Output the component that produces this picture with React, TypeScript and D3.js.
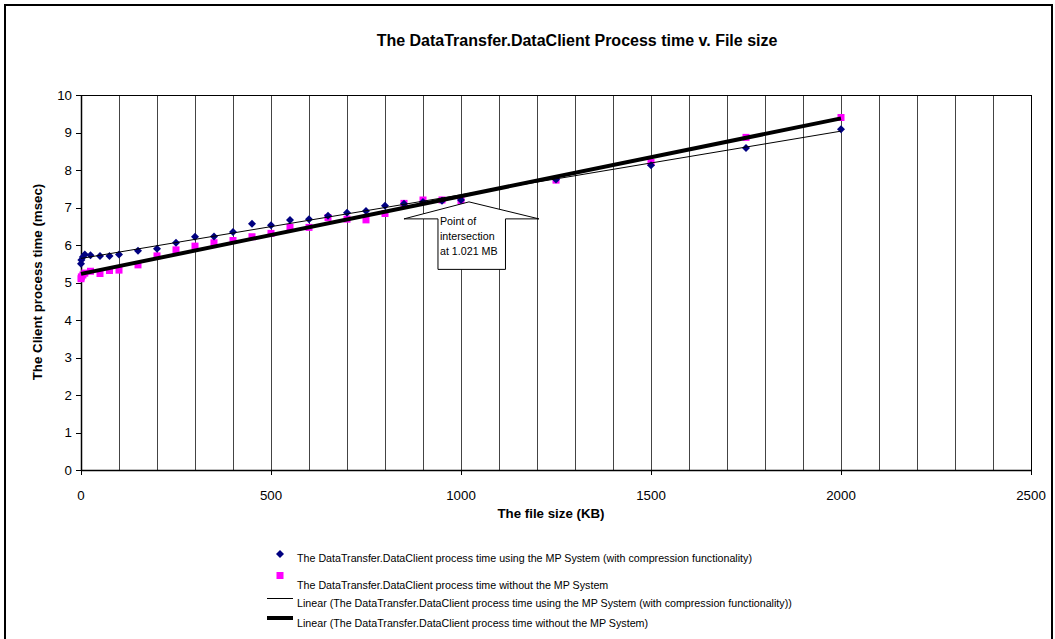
import React from 'react';
import * as d3 from 'd3';

const W = 1055;
const H = 639;

const titleText = 'The DataTransfer.DataClient Process time v. File size';
const xTitle = 'The file size (KB)';
const yTitle = 'The Client process time (msec)';
const xTicks = [0, 500, 1000, 1500, 2000, 2500];
const yTicks = [0, 1, 2, 3, 4, 5, 6, 7, 8, 9, 10];
const gridX = [100, 200, 300, 400, 500, 600, 700, 800, 900, 1000, 1100, 1200, 1300, 1400, 1500, 1600, 1700, 1800, 1900, 2000, 2100, 2200, 2300, 2400];

const blueX = [0, 1, 5, 10, 25, 50, 75, 100, 150, 200, 250, 300, 350, 400, 450, 500, 550, 600, 650, 700, 750, 800, 850, 900, 950, 1000, 1250, 1500, 1750, 2000];
const blueY = [5.5, 5.6, 5.68, 5.75, 5.73, 5.71, 5.71, 5.75, 5.85, 5.9, 6.06, 6.22, 6.23, 6.35, 6.57, 6.53, 6.67, 6.69, 6.78, 6.86, 6.91, 7.05, 7.1, 7.15, 7.18, 7.2, 7.75, 8.13, 8.59, 9.09];

const pinkX = [0, 1, 5, 10, 25, 50, 75, 100, 150, 200, 250, 300, 350, 400, 450, 500, 550, 600, 650, 700, 750, 800, 850, 900, 950, 1000, 1250, 1500, 1750, 2000];
const pinkY = [5.1, 5.15, 5.2, 5.25, 5.3, 5.24, 5.32, 5.33, 5.47, 5.71, 5.87, 5.97, 6.06, 6.12, 6.22, 6.31, 6.47, 6.47, 6.73, 6.69, 6.67, 6.84, 7.11, 7.2, 7.2, 7.18, 7.73, 8.2, 8.87, 9.4];

const legendLabels = [
  'The DataTransfer.DataClient process time using the MP System (with compression functionality)',
  'The DataTransfer.DataClient process time without the MP System',
  'Linear (The DataTransfer.DataClient process time using the MP System (with compression functionality))',
  'Linear (The DataTransfer.DataClient process time without the MP System)',
];

const calloutLines = ['Point of', 'intersection', 'at 1.021 MB'];
const calloutTip = { x: 1021, y: 7.15 };

const FONT = '"Liberation Sans", Arial, Helvetica, sans-serif';

function fit(xs: number[], ys: number[]) {
  const mx = d3.mean(xs) as number;
  const my = d3.mean(ys) as number;
  let sxy = 0, sxx = 0;
  xs.forEach((x, i) => {
    sxy += (x - mx) * (ys[i] - my);
    sxx += (x - mx) * (x - mx);
  });
  const b = sxy / sxx;
  const a = my - b * mx;
  return (x: number) => a + b * x;
}

const DIAMOND = 'M0,-4L4,0L0,4L-4,0Z';

export default function App() {
  const left = 81, right = 1031, top = 95, bottom = 470;
  const x = d3.scaleLinear().domain([0, 2500]).range([left, right]);
  const y = d3.scaleLinear().domain([0, 10]).range([bottom, top]);

  const fb = fit(blueX, blueY);
  const fp = fit(pinkX, pinkY);
  const x0 = d3.min(blueX) as number;
  const x1 = d3.max(blueX) as number;
  const line = d3.line<[number, number]>().x(d => x(d[0])).y(d => y(d[1]));

  const tx = x(calloutTip.x), ty = y(calloutTip.y);
  const arrow = [
    [tx, ty],
    [tx + 70, ty + 17],
    [tx + 36.5, ty + 17],
    [tx + 36.5, ty + 67.5],
    [tx - 31, ty + 67.5],
    [tx - 31, ty + 17],
    [tx - 65, ty + 17],
  ];

  return (
    <svg width={W} height={H} style={{ position: 'absolute', left: 0, top: 0, background: '#fff' }} fontFamily={FONT}>
      <rect x={0} y={0} width={W} height={H} fill="#fff" />
      <rect x={5} y={5} width={1047} height={H + 10} fill="none" stroke="#000" strokeWidth={2} />
      <text x={577} y={45.5} textAnchor="middle" fontSize={16} fontWeight="bold">{titleText}</text>

      {gridX.map(g => (
        <line key={g} x1={Math.round(x(g)) + 0.5} x2={Math.round(x(g)) + 0.5} y1={top} y2={bottom} stroke="#444" strokeWidth={1} />
      ))}
      <rect x={left + 0.5} y={top + 0.5} width={right - left} height={bottom - top} fill="none" stroke="#000" strokeWidth={1} />
      <line x1={left + 0.5} x2={left + 0.5} y1={top} y2={bottom + 1} stroke="#000" strokeWidth={1.5} />
      <line x1={left} x2={right + 1} y1={bottom + 0.5} y2={bottom + 0.5} stroke="#000" strokeWidth={1.5} />

      {yTicks.map(t => (
        <g key={t}>
          <line x1={left - 5} x2={left} y1={Math.round(y(t)) + 0.5} y2={Math.round(y(t)) + 0.5} stroke="#000" />
          <text x={72} y={y(t) + 4.7} textAnchor="end" fontSize={13.3}>{t}</text>
        </g>
      ))}
      {xTicks.map(t => (
        <g key={t}>
          <line x1={Math.round(x(t)) + 0.5} x2={Math.round(x(t)) + 0.5} y1={bottom} y2={bottom + 5} stroke="#000" />
          <text x={x(t)} y={499.5} textAnchor="middle" fontSize={13.3}>{t}</text>
        </g>
      ))}

      <text x={551} y={518} textAnchor="middle" fontSize={13.3} fontWeight="bold">{xTitle}</text>
      <text transform={`translate(42,282) rotate(-90)`} textAnchor="middle" fontSize={13.3} fontWeight="bold">{yTitle}</text>

      {pinkX.map((px, i) => (
        <rect key={'p' + i} x={x(px) - 3.5} y={y(pinkY[i]) - 3.5} width={7} height={7} fill="#FF00FF" />
      ))}
      {blueX.map((bx, i) => (
        <path key={'b' + i} d={DIAMOND} transform={`translate(${x(bx)},${y(blueY[i])})`} fill="#000080" />
      ))}

      <path d={line([[x0, fb(x0)], [x1, fb(x1)]]) as string} stroke="#000" strokeWidth={1} fill="none" />
      <path d={line([[x0, fp(x0)], [x1, fp(x1)]]) as string} stroke="#000" strokeWidth={4} fill="none" />

      <path d={'M' + arrow.map(p => p.join(',')).join('L') + 'Z'} fill="#fff" stroke="#000" strokeWidth={1} />
      {calloutLines.map((l, i) => (
        <text key={l} x={tx - 29} y={ty + 23.5 + i * 15} fontSize={10.7}>{l}</text>
      ))}

      <path d={DIAMOND} transform="translate(280,554)" fill="#000080" />
      <rect x={276.5} y={572} width={7} height={7} fill="#FF00FF" />
      <line x1={267} x2={293} y1={598.5} y2={598.5} stroke="#000" strokeWidth={1} />
      <line x1={267} x2={293} y1={618} y2={618} stroke="#000" strokeWidth={4} />
      {legendLabels.map((l, i) => (
        <text key={i} x={297} y={[562, 589, 607, 627][i]} fontSize={10.7}>{l}</text>
      ))}
    </svg>
  );
}
